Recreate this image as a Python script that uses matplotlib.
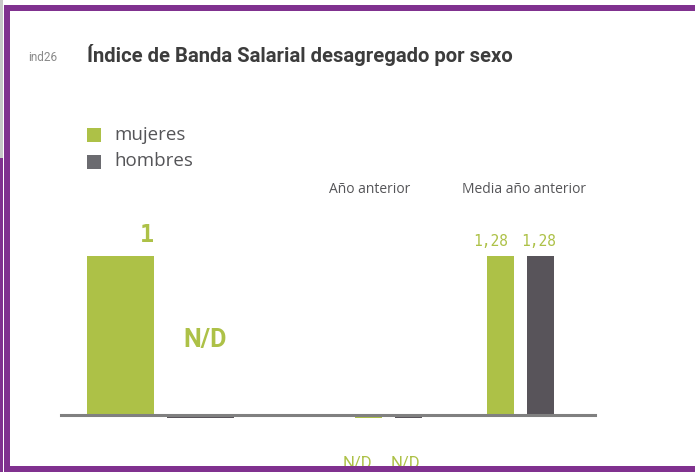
import matplotlib
matplotlib.use("Agg")
import matplotlib.pyplot as plt
from matplotlib.patches import Rectangle
from matplotlib.lines import Line2D
from matplotlib import font_manager as fm

# ---------------- data ----------------
groups = ["", "Año anterior", "Media año anterior"]
series = ["mujeres", "hombres"]
mujeres = [1.0, None, 1.28]
hombres = [None, None, 1.28]
mujeres_labels = ["1", "N/D", "1,28"]
hombres_labels = ["N/D", "N/D", "1,28"]
code = "ind26"
title = "Índice de Banda Salarial desagregado por sexo"

# ---------------- style ----------------
W, H = 695, 472
GREEN = "#adc147"
DARK = "#58545a"
LEG_DARK = "#6b6b70"
PURPLE = "#80318f"
TXT = "#555558"

names = {f.name for f in fm.fontManager.ttflist}
NARROW = "Liberation Sans Narrow" if "Liberation Sans Narrow" in names else "Roboto"
REG = "Open Sans"
MONO = "DejaVu Sans Mono"

fig = plt.figure(figsize=(W / 100, H / 100), dpi=100)
fig.patch.set_facecolor("white")

def fx(x):
    return x / W

def fy(y):
    return 1 - y / H

# frame
def rect(x0, y0, x1, y1, c, z=10):
    fig.patches.append(Rectangle((fx(x0), fy(y1)), (x1 - x0) / W, (y1 - y0) / H,
                                 transform=fig.transFigure, facecolor=c, edgecolor="none", zorder=z))

rect(0, 0, 2.5, 158, "#c8c8c8")
rect(0, 158, 2.5, H, PURPLE)
rect(4, 5, W, 11, PURPLE)
rect(4, 5, 10, H, PURPLE)
rect(4, 466, W, H, PURPLE)

# title
fig.text(fx(28), fy(57.5), code, fontsize=8.5, color="#8a8a8a", family=NARROW, va="center", ha="left")
fig.text(fx(87), fy(55), title, fontsize=14.6, fontweight="bold", color="#3c3c3c",
         family=NARROW, va="center", ha="left")

# legend
for i, (s, c) in enumerate(zip(series, [GREEN, LEG_DARK])):
    yc = 135 + i * 26.5
    rect(87, yc - 7, 101, yc + 7, c, z=3)
    fig.text(fx(114), fy(yc), s, fontsize=13.5, color=TXT, family=REG, va="center", ha="left")

# axes: bars bottom at y=417 px, max value top at 256 px
base_px, top_px = 417, 256
ax_h = (base_px - top_px) / H

def make_ax(ymax):
    ax = fig.add_axes([0, fy(base_px), 1, ax_h])
    ax.set_xlim(0, W)
    ax.set_ylim(0, ymax)
    ax.axis("off")
    ax.patch.set_alpha(0)
    return ax

# baseline
fig.lines.append(Line2D([fx(61), fx(595)], [fy(414.5), fy(414.5)], transform=fig.transFigure,
                        color="#808080", lw=2.2, zorder=1))

stub_px = 1.2
# group layout (pixel centers and widths)
centers = [(120.5, 200.5), (368.0, 408.0), (500.5, 540.5)]
widths = [67, 27, 27]

ax_cur = make_ax(max(v for v in [mujeres[0], hombres[0]] if v is not None))
ax_prev = make_ax(max(v for v in mujeres[1:] + hombres[1:] if v is not None))

for g in range(3):
    ax = ax_cur if g == 0 else ax_prev
    ymax = ax.get_ylim()[1]
    stub = ymax * stub_px / (base_px - top_px)
    for k, (vals, c) in enumerate([(mujeres, GREEN), (hombres, DARK)]):
        v = vals[g]
        if v is None:
            # N/D: thin stub just under the baseline
            ax.bar(centers[g][k], stub, width=widths[g], bottom=-stub * 0.6, color=c,
                   zorder=3, clip_on=False)
        else:
            ax.bar(centers[g][k], v, width=widths[g], color=c, zorder=3)

# group headers
fig.text(fx(369.5), fy(189.5), groups[1], fontsize=10, color=TXT, family=REG, ha="center", va="center")
fig.text(fx(524), fy(189.5), groups[2], fontsize=10, color=TXT, family=REG, ha="center", va="center")

# value labels
fig.text(fx(154), fy(235), mujeres_labels[0], fontsize=17, fontweight="bold", color=GREEN,
         family=MONO, ha="right", va="center")
fig.text(fx(205), fy(340), hombres_labels[0], fontsize=18, fontweight="bold", color=GREEN,
         family=NARROW, ha="center", va="center")
fig.text(fx(357), fy(456), mujeres_labels[1], fontsize=12, color=GREEN, family=NARROW,
         ha="center", va="top", zorder=1)
fig.text(fx(405), fy(456), hombres_labels[1], fontsize=12, color=GREEN, family=NARROW,
         ha="center", va="top", zorder=1)
fig.text(fx(491), fy(242), mujeres_labels[2], fontsize=10.5, color=GREEN, family=MONO,
         ha="center", va="center")
fig.text(fx(539), fy(242), hombres_labels[2], fontsize=10.5, color=GREEN, family=MONO,
         ha="center", va="center")

fig.savefig("out.png", dpi=100, facecolor="white")
